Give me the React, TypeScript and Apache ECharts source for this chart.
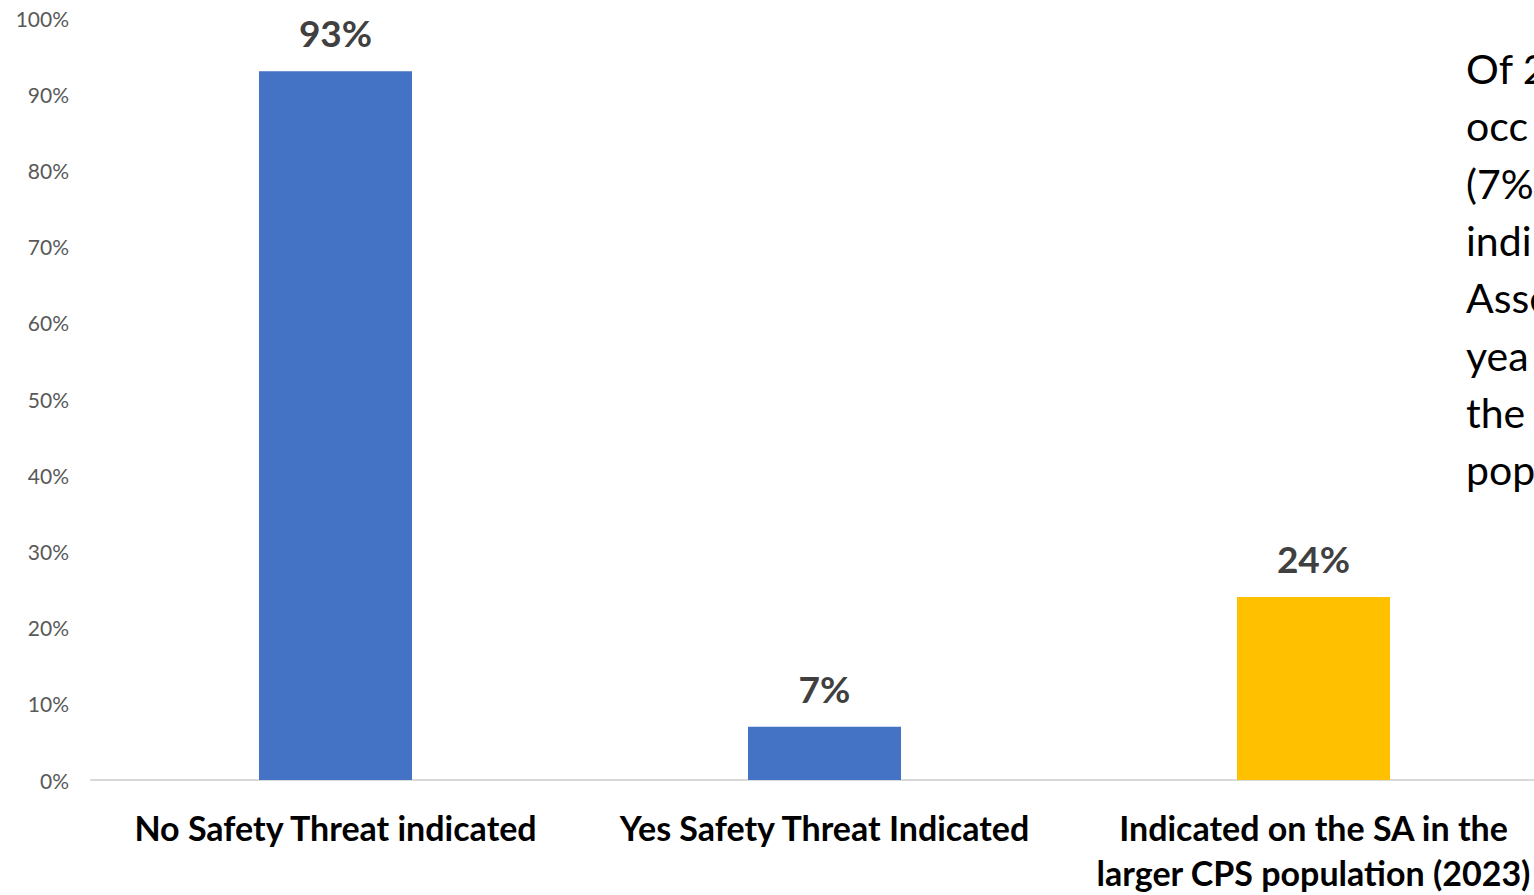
import React, { useEffect, useRef } from "react";
import * as echarts from "echarts";

const categories = [
  "No Safety Threat indicated",
  "Yes Safety Threat Indicated",
  "Indicated on the SA in the\nlarger CPS population (2023)",
];
const values = [93, 7, 24];
const barColors = ["#4472C4", "#4472C4", "#FFC000"];
const yTicks = [0, 10, 20, 30, 40, 50, 60, 70, 80, 90, 100];
const sideTextLines = ["Of 2", "occ", "(7%", "indi", "Asse", "yea", "the", "pop"];

export default function App() {
  const ref = useRef<HTMLDivElement>(null);
  useEffect(() => {
    if (!ref.current) return;
    const chart = echarts.init(ref.current, undefined, { renderer: "svg" });
    chart.setOption({
      animation: false,
      backgroundColor: "#ffffff",
      grid: {
        left: 91,
        top: 18,
        bottom: 115,
        right: -24,
        containLabel: false,
        outerBoundsMode: "none",
      },
      xAxis: {
        type: "category",
        data: categories,
        axisLine: { lineStyle: { color: "#D9D9D9", width: 2 } },
        axisTick: { show: false },
        axisLabel: {
          interval: 0,
          margin: 25,
          color: "#000000",
          fontFamily: "Lato",
          fontWeight: "bold",
          fontSize: 34,
          lineHeight: 45,
        },
      },
      yAxis: {
        type: "value",
        min: yTicks[0],
        max: yTicks[yTicks.length - 1],
        interval: 10,
        splitLine: { show: false },
        axisLine: { show: false },
        axisTick: { show: false },
        axisLabel: {
          formatter: (v: number) => v + "%",
          color: "#595959",
          fontFamily: "Lato",
          fontSize: 21,
          margin: 22,
        },
      },
      series: [
        {
          type: "bar",
          barWidth: 153,
          data: values.map((v, i) => ({ value: v, itemStyle: { color: barColors[i] } })),
          label: {
            show: true,
            position: "top",
            distance: 20,
            formatter: (p: any) => p.value + "%",
            color: "#404040",
            fontFamily: "Lato",
            fontWeight: "bold",
            fontSize: 37,
          },
        },
      ],
      graphic: sideTextLines.map((t, i) => ({
        type: "text",
        left: 1466,
        top: 48 + i * 57.3,
        style: {
          text: t,
          fill: "#000000",
          fontFamily: "Lato",
          fontSize: 41,
        },
      })),
    });
    return () => chart.dispose();
  }, []);
  return <div ref={ref} style={{ width: 1534, height: 895, position: "fixed", left: 0, top: 0 }} />;
}
